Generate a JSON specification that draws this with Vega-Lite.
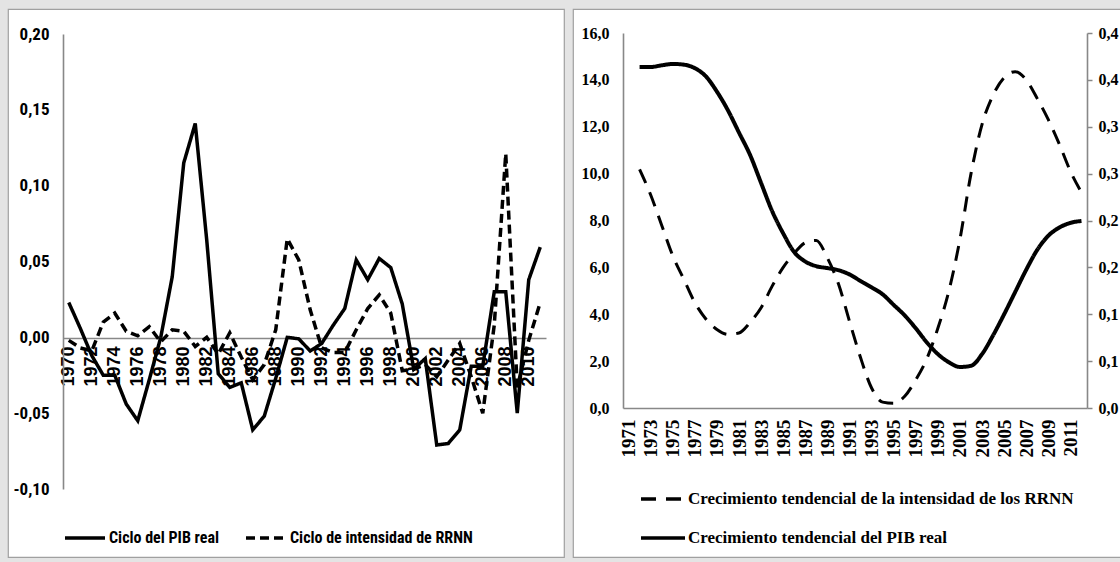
{
  "$schema": "https://vega.github.io/schema/vega-lite/v6.json",
  "background": "#e4e4e4",
  "padding": {"left": 7, "top": 8, "right": 0, "bottom": 6},
  "spacing": 9,
  "bounds": "flush",
  "resolve": {"scale": {"strokeDash": "independent"}, "legend": {"strokeDash": "independent"}},
  "config": {
    "view": {"fill": "white", "stroke": "#a0a0a0", "strokeWidth": 1.2},
    "axis": {"grid": false, "domainColor": "#888888", "domainWidth": 1.6, "labelColor": "black", "labelFontWeight": "bold", "title": null}
  },
  "hconcat": [
    {
      "width": 556,
      "height": 548,
      "data": {"values": [
        {"year": 1970, "pib": 0.023, "rrnn": -0.002},
        {"year": 1971, "pib": 0.006, "rrnn": -0.007},
        {"year": 1972, "pib": -0.012, "rrnn": -0.009},
        {"year": 1973, "pib": -0.025, "rrnn": 0.010},
        {"year": 1974, "pib": -0.025, "rrnn": 0.016},
        {"year": 1975, "pib": -0.044, "rrnn": 0.004},
        {"year": 1976, "pib": -0.055, "rrnn": 0.001},
        {"year": 1977, "pib": -0.028, "rrnn": 0.007},
        {"year": 1978, "pib": 0.000, "rrnn": -0.003},
        {"year": 1979, "pib": 0.040, "rrnn": 0.005},
        {"year": 1980, "pib": 0.115, "rrnn": 0.004},
        {"year": 1981, "pib": 0.141, "rrnn": -0.006},
        {"year": 1982, "pib": 0.064, "rrnn": 0.000},
        {"year": 1983, "pib": -0.024, "rrnn": -0.011},
        {"year": 1984, "pib": -0.033, "rrnn": 0.003},
        {"year": 1985, "pib": -0.030, "rrnn": -0.013},
        {"year": 1986, "pib": -0.061, "rrnn": -0.028},
        {"year": 1987, "pib": -0.052, "rrnn": -0.018},
        {"year": 1988, "pib": -0.027, "rrnn": 0.005},
        {"year": 1989, "pib": 0.000, "rrnn": 0.065},
        {"year": 1990, "pib": -0.001, "rrnn": 0.051},
        {"year": 1991, "pib": -0.009, "rrnn": 0.018},
        {"year": 1992, "pib": -0.004, "rrnn": -0.007},
        {"year": 1993, "pib": 0.008, "rrnn": -0.010},
        {"year": 1994, "pib": 0.019, "rrnn": -0.010},
        {"year": 1995, "pib": 0.051, "rrnn": 0.005},
        {"year": 1996, "pib": 0.038, "rrnn": 0.019},
        {"year": 1997, "pib": 0.052, "rrnn": 0.028},
        {"year": 1998, "pib": 0.046, "rrnn": 0.016},
        {"year": 1999, "pib": 0.022, "rrnn": -0.022},
        {"year": 2000, "pib": -0.021, "rrnn": -0.021},
        {"year": 2001, "pib": -0.014, "rrnn": -0.018},
        {"year": 2002, "pib": -0.071, "rrnn": -0.026},
        {"year": 2003, "pib": -0.070, "rrnn": -0.015},
        {"year": 2004, "pib": -0.061, "rrnn": -0.004},
        {"year": 2005, "pib": -0.019, "rrnn": -0.026},
        {"year": 2006, "pib": -0.019, "rrnn": -0.050},
        {"year": 2007, "pib": 0.030, "rrnn": 0.008},
        {"year": 2008, "pib": 0.030, "rrnn": 0.121},
        {"year": 2009, "pib": -0.050, "rrnn": -0.033},
        {"year": 2010, "pib": 0.038, "rrnn": -0.002},
        {"year": 2011, "pib": 0.0595, "rrnn": 0.023}
      ]},
      "encoding": {
        "x": {
          "field": "year", "type": "quantitative",
          "scale": {"domain": [1969.5, 2011.5], "range": [55, 538], "nice": false, "zero": false},
          "axis": {
            "orient": "bottom", "offset": -219, "values": [1970,1972,1974,1976,1978,1980,1982,1984,1986,1988,1990,1992,1994,1996,1998,2000,2002,2004,2006,2008,2010],
            "format": "d", "labelAngle": -90, "ticks": false, "tickSize": 0, "labelPadding": 8,
            "labelFont": "Liberation Sans", "labelFontSize": 18, "labelFlush": false, "labelOverlap": false, "labelBound": false
          }
        }
      },
      "layer": [
        {
          "mark": {"type": "line", "color": "black", "strokeWidth": 3.5, "interpolate": "linear"},
          "encoding": {
            "y": {
              "field": "pib", "type": "quantitative",
              "scale": {"domain": [-0.10, 0.20], "range": [480, 25], "nice": false, "zero": false},
              "axis": {
                "orient": "left", "offset": -55, "values": [-0.10, -0.05, 0, 0.05, 0.10, 0.15, 0.20],
                "labelExpr": "replace(replace(format(datum.value, '.2f'), '.', ','), '\u2212', '-')",
                "ticks": false, "tickSize": 0, "labelPadding": 14,
                "labelFont": "Liberation Sans Narrow, Roboto Condensed, Arial Narrow, sans-serif", "labelFontSize": 17
              }
            },
            "strokeDash": {
              "datum": "Ciclo del PIB real", "type": "nominal",
              "scale": {"domain": ["Ciclo del PIB real", "Ciclo de intensidad de RRNN"], "range": [[1, 0], [9, 5]]},
              "legend": {
                "orient": "none", "legendX": 55, "legendY": 507, "direction": "horizontal", "title": null,
                "symbolType": "stroke", "symbolSize": 1600, "symbolStrokeWidth": 3.5, "symbolStrokeColor": "black",
                "labelFont": "Liberation Sans Narrow, Roboto Condensed, Arial Narrow, sans-serif", "labelFontSize": 16, "labelFontWeight": "bold",
                "labelColor": "black", "labelOffset": 2, "columnPadding": 20, "labelLimit": 400
              }
            }
          }
        },
        {
          "mark": {"type": "line", "color": "black", "strokeWidth": 3.5, "interpolate": "linear"},
          "encoding": {
            "y": {"field": "rrnn", "type": "quantitative"},
            "strokeDash": {"datum": "Ciclo de intensidad de RRNN", "type": "nominal"}
          }
        }
      ]
    },
    {
      "width": 548,
      "height": 548,
      "data": {"values": [
        {"year": 1972, "pib": 14.55, "rrnn": 0.2545},
        {"year": 1973, "pib": 14.55, "rrnn": 0.2275},
        {"year": 1974, "pib": 14.62, "rrnn": 0.195},
        {"year": 1975, "pib": 14.68, "rrnn": 0.1625},
        {"year": 1976, "pib": 14.65, "rrnn": 0.1375},
        {"year": 1977, "pib": 14.5, "rrnn": 0.1125},
        {"year": 1978, "pib": 14.15, "rrnn": 0.095},
        {"year": 1979, "pib": 13.5, "rrnn": 0.0838},
        {"year": 1980, "pib": 12.7, "rrnn": 0.0785},
        {"year": 1981, "pib": 11.75, "rrnn": 0.08},
        {"year": 1982, "pib": 10.8, "rrnn": 0.0913},
        {"year": 1983, "pib": 9.6, "rrnn": 0.107},
        {"year": 1984, "pib": 8.4, "rrnn": 0.13},
        {"year": 1985, "pib": 7.45, "rrnn": 0.15},
        {"year": 1986, "pib": 6.65, "rrnn": 0.165},
        {"year": 1987, "pib": 6.25, "rrnn": 0.1763},
        {"year": 1988, "pib": 6.05, "rrnn": 0.1788},
        {"year": 1989, "pib": 5.97, "rrnn": 0.16},
        {"year": 1990, "pib": 5.88, "rrnn": 0.1325},
        {"year": 1991, "pib": 5.7, "rrnn": 0.0925},
        {"year": 1992, "pib": 5.42, "rrnn": 0.0538},
        {"year": 1993, "pib": 5.15, "rrnn": 0.0213},
        {"year": 1994, "pib": 4.85, "rrnn": 0.0063},
        {"year": 1995, "pib": 4.4, "rrnn": 0.005},
        {"year": 1996, "pib": 3.95, "rrnn": 0.0125},
        {"year": 1997, "pib": 3.4, "rrnn": 0.03},
        {"year": 1998, "pib": 2.8, "rrnn": 0.0525},
        {"year": 1999, "pib": 2.3, "rrnn": 0.085},
        {"year": 2000, "pib": 1.95, "rrnn": 0.125},
        {"year": 2001, "pib": 1.75, "rrnn": 0.18},
        {"year": 2002, "pib": 1.8, "rrnn": 0.25},
        {"year": 2003, "pib": 2.3, "rrnn": 0.3025},
        {"year": 2004, "pib": 3.1, "rrnn": 0.3338},
        {"year": 2005, "pib": 4.0, "rrnn": 0.3525},
        {"year": 2006, "pib": 4.95, "rrnn": 0.3588},
        {"year": 2007, "pib": 5.9, "rrnn": 0.35},
        {"year": 2008, "pib": 6.75, "rrnn": 0.33},
        {"year": 2009, "pib": 7.35, "rrnn": 0.3075},
        {"year": 2010, "pib": 7.7, "rrnn": 0.2813},
        {"year": 2011, "pib": 7.9, "rrnn": 0.2525},
        {"year": 2012, "pib": 7.98, "rrnn": 0.23}
      ]},
      "encoding": {
        "x": {
          "field": "year", "type": "quantitative",
          "scale": {"domain": [1970.5, 2012.5], "range": [50, 514], "nice": false, "zero": false},
          "axis": {
            "orient": "bottom", "offset": -149, "values": [1971,1973,1975,1977,1979,1981,1983,1985,1987,1989,1991,1993,1995,1997,1999,2001,2003,2005,2007,2009,2011],
            "format": "d", "labelAngle": -90, "ticks": false, "tickSize": 0, "labelPadding": 11,
            "labelFont": "Liberation Serif", "labelFontSize": 19, "labelFlush": false, "labelOverlap": false, "labelBound": false
          }
        }
      },
      "layer": [
        {
          "mark": {"type": "line", "color": "black", "strokeWidth": 4, "interpolate": "monotone"},
          "encoding": {
            "y": {
              "field": "pib", "type": "quantitative",
              "scale": {"domain": [0, 16], "range": [399, 24], "nice": false, "zero": false},
              "axis": {
                "orient": "left", "offset": -50, "values": [0, 2, 4, 6, 8, 10, 12, 14, 16],
                "labelExpr": "replace(format(datum.value, '.1f'), '.', ',')",
                "ticks": false, "tickSize": 0, "labelPadding": 14,
                "labelFont": "Liberation Serif", "labelFontSize": 16
              }
            },
            "strokeDash": {
              "datum": "Crecimiento tendencial del PIB real", "type": "nominal",
              "scale": {"domain": ["Crecimiento tendencial de la intensidad de los RRNN", "Crecimiento tendencial del PIB real"], "range": [[15, 10], [1, 0]]},
              "legend": {
                "orient": "none", "legendX": 66, "legendY": 466, "direction": "vertical", "title": null,
                "symbolType": "stroke", "symbolSize": 1936, "symbolStrokeWidth": 3.5, "symbolStrokeColor": "black",
                "labelFont": "Liberation Serif", "labelFontSize": 17, "labelFontWeight": "bold",
                "labelColor": "black", "labelOffset": 1, "rowPadding": 7, "labelLimit": 500
              }
            }
          }
        },
        {
          "mark": {"type": "line", "color": "black", "strokeWidth": 3, "interpolate": "monotone"},
          "encoding": {
            "y": {
              "field": "rrnn", "type": "quantitative",
              "scale": {"domain": [0, 0.40], "range": [399, 24], "nice": false, "zero": false},
              "axis": {
                "orient": "right", "offset": -34, "values": [0, 0.05, 0.10, 0.15, 0.20, 0.25, 0.30, 0.35, 0.40],
                "labelExpr": "replace(format(datum.value + 1e-9, '.1f'), '.', ',')",
                "ticks": true, "tickSize": 5, "tickColor": "#888888", "tickWidth": 1.5, "labelPadding": 6,
                "labelFont": "Liberation Serif", "labelFontSize": 16
              }
            },
            "strokeDash": {"datum": "Crecimiento tendencial de la intensidad de los RRNN", "type": "nominal"}
          }
        }
      ],
      "resolve": {"scale": {"y": "independent"}}
    }
  ]
}
